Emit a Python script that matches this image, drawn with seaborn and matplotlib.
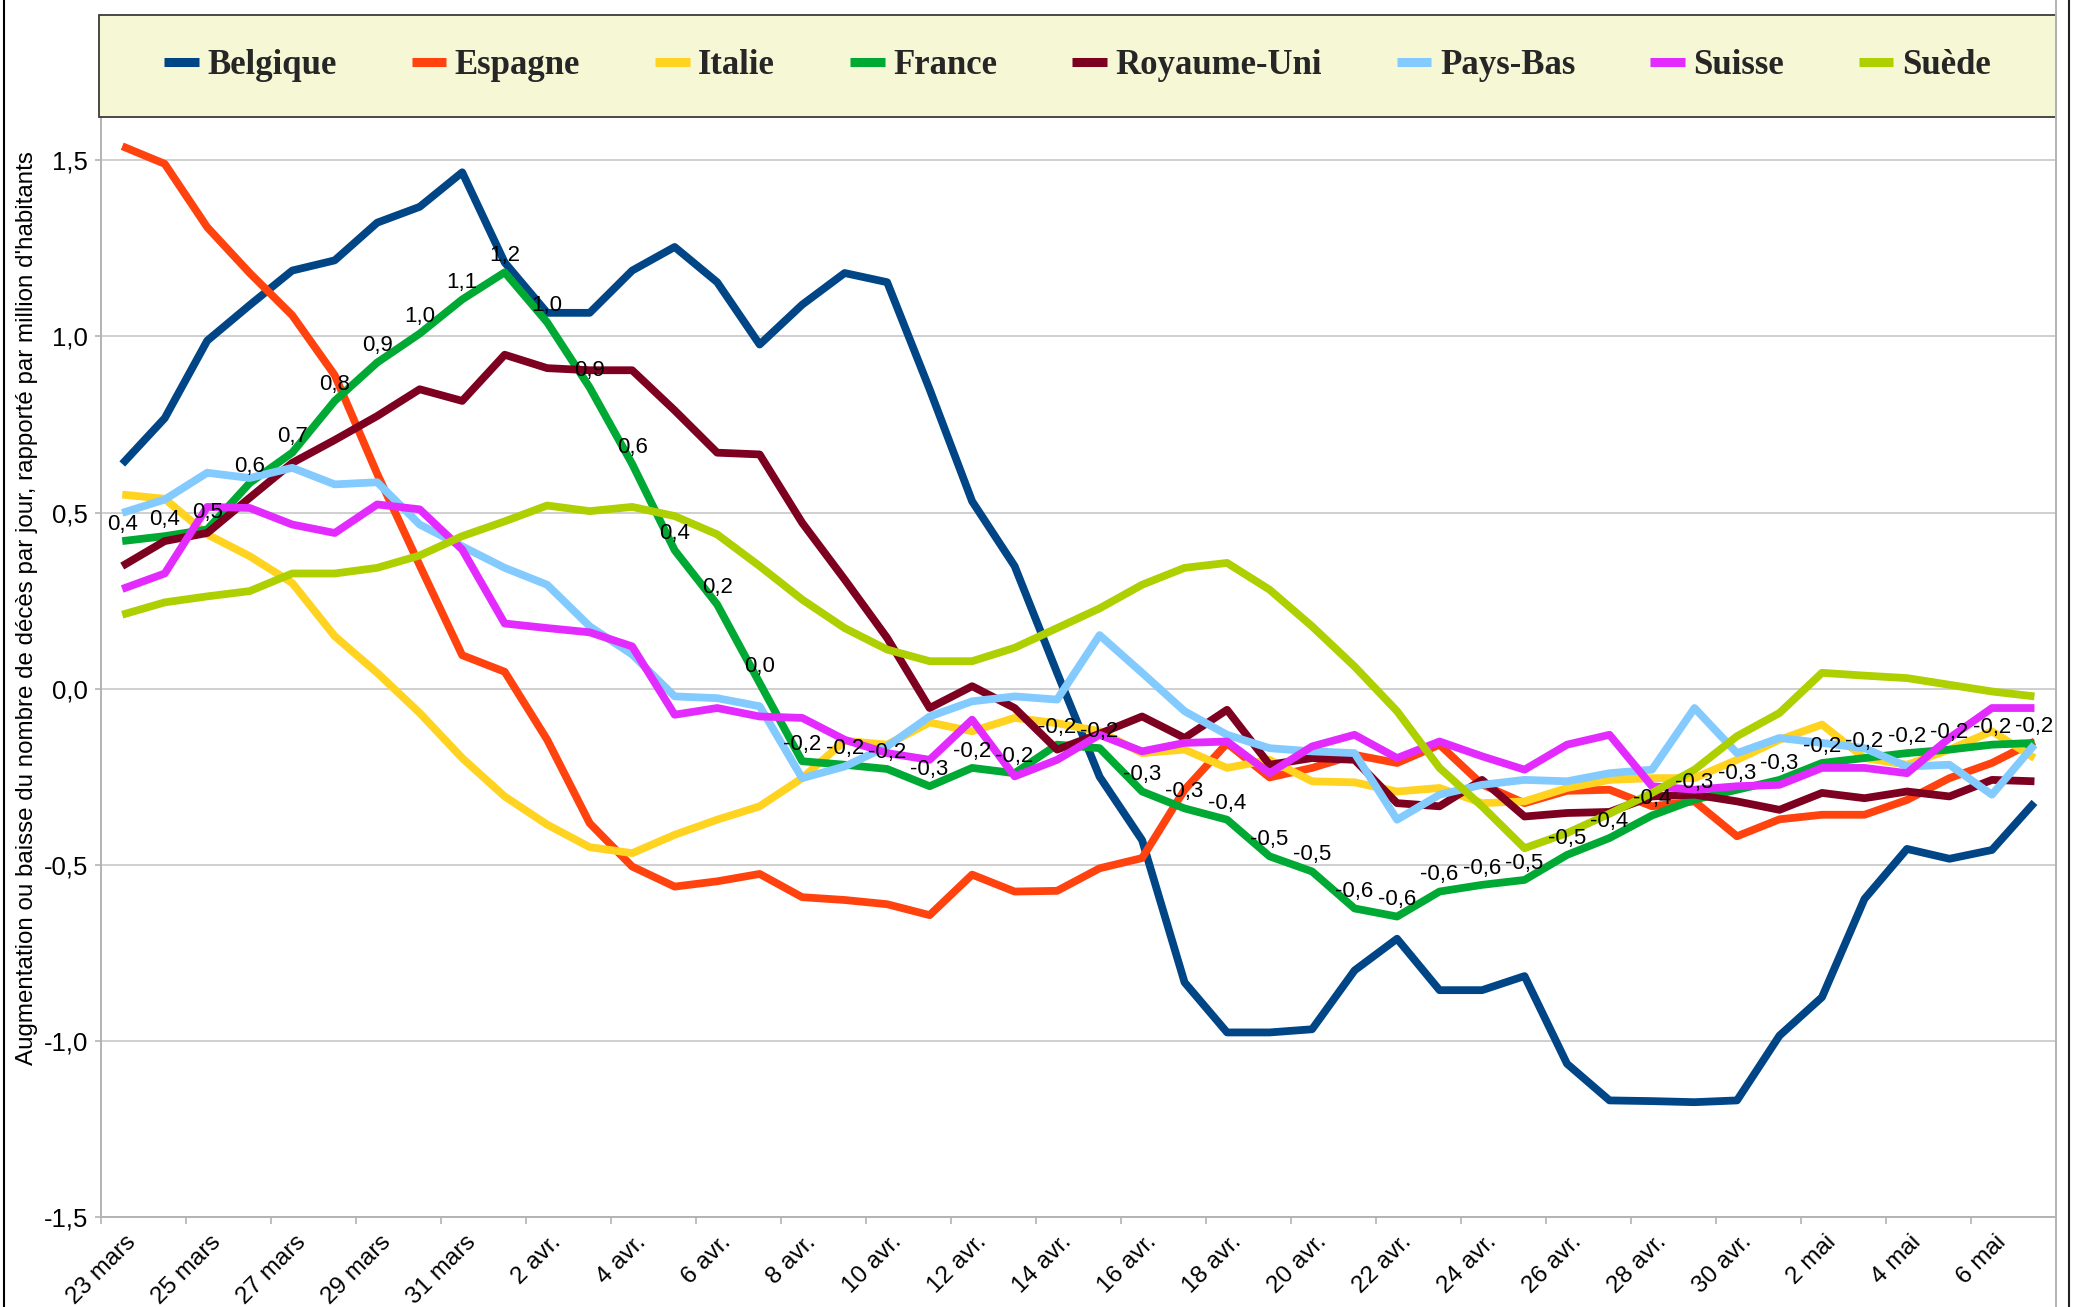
import numpy as np
import pandas as pd
import matplotlib
matplotlib.use("Agg")
import matplotlib.pyplot as plt
import matplotlib.transforms as mtrans
from matplotlib.lines import Line2D
from matplotlib.patches import Rectangle
from matplotlib.font_manager import FontProperties
import seaborn as sns

# ---------------- data ----------------
countries = ["Belgique", "Espagne", "Italie", "France", "Royaume-Uni",
             "Pays-Bas", "Suisse", "Suède"]
colors = ["#004586", "#FF420E", "#FFD320", "#00A933", "#7E0021",
          "#83CAFF", "#E42BFF", "#AECF00"]

xtick_labels = ["23 mars", "25 mars", "27 mars", "29 mars", "31 mars",
                "2 avr.", "4 avr.", "6 avr.", "8 avr.", "10 avr.", "12 avr.",
                "14 avr.", "16 avr.", "18 avr.", "20 avr.", "22 avr.",
                "24 avr.", "26 avr.", "28 avr.", "30 avr.", "2 mai",
                "4 mai", "6 mai"]
ytick_values = [-1.5, -1.0, -0.5, 0.0, 0.5, 1.0, 1.5]
ytick_labels = ["-1,5", "-1,0", "-0,5", "0,0", "0,5", "1,0", "1,5"]

belgique = [0.638, 0.768, 0.988, 1.089, 1.187, 1.216, 1.323, 1.368, 1.466, 1.21,
            1.067, 1.067, 1.187, 1.254, 1.154, 0.977, 1.09, 1.18, 1.154, 0.85,
            0.532, 0.348, 0.045, -0.25, -0.43, -0.834, -0.976, -0.976, -0.967, -0.80,
            -0.71, -0.856, -0.856, -0.816, -1.065, -1.169, -1.171, -1.174, -1.169, -0.985,
            -0.876, -0.597, -0.455, -0.483, -0.458, -0.323]
espagne = [1.54, 1.49, 1.31, 1.18, 1.06, 0.89, 0.61, 0.35, 0.095, 0.048,
           -0.145, -0.382, -0.505, -0.562, -0.547, -0.526, -0.592, -0.600, -0.612, -0.643,
           -0.528, -0.576, -0.574, -0.510, -0.481, -0.287, -0.155, -0.252, -0.225, -0.188,
           -0.211, -0.159, -0.272, -0.325, -0.290, -0.287, -0.334, -0.320, -0.419, -0.371,
           -0.358, -0.358, -0.316, -0.254, -0.211, -0.150]
italie = [0.551, 0.539, 0.438, 0.376, 0.30, 0.149, 0.045, -0.069, -0.197, -0.306,
          -0.386, -0.45, -0.467, -0.415, -0.372, -0.334, -0.254, -0.148, -0.159, -0.096,
          -0.121, -0.083, -0.098, -0.121, -0.183, -0.173, -0.225, -0.202, -0.263, -0.266,
          -0.292, -0.282, -0.325, -0.320, -0.282, -0.259, -0.254, -0.254, -0.202, -0.145,
          -0.102, -0.197, -0.216, -0.173, -0.121, -0.197]
france = [0.419, 0.433, 0.452, 0.584, 0.67, 0.817, 0.926, 1.008, 1.105, 1.182,
          1.040, 0.855, 0.638, 0.393, 0.239, 0.016, -0.206, -0.216, -0.228, -0.277,
          -0.225, -0.24, -0.159, -0.169, -0.292, -0.34, -0.372, -0.476, -0.519, -0.624,
          -0.647, -0.576, -0.557, -0.543, -0.472, -0.424, -0.36, -0.315, -0.287, -0.259,
          -0.211, -0.197, -0.183, -0.173, -0.159, -0.154]
royaume_uni = [0.348, 0.419, 0.442, 0.542, 0.641, 0.706, 0.774, 0.85, 0.817, 0.948,
               0.91, 0.904, 0.904, 0.790, 0.67, 0.665, 0.471, 0.31, 0.144, -0.055,
               0.007, -0.055, -0.173, -0.128, -0.079, -0.14, -0.06, -0.216, -0.197, -0.202,
               -0.325, -0.334, -0.259, -0.363, -0.353, -0.350, -0.306, -0.301, -0.320, -0.344,
               -0.296, -0.311, -0.292, -0.306, -0.259, -0.263]
pays_bas = [0.499, 0.537, 0.613, 0.598, 0.627, 0.58, 0.586, 0.466, 0.404, 0.343,
            0.295, 0.177, 0.097, -0.022, -0.027, -0.05, -0.254, -0.221, -0.164, -0.079,
            -0.036, -0.022, -0.031, 0.152, 0.045, -0.064, -0.131, -0.169, -0.178, -0.183,
            -0.372, -0.301, -0.273, -0.259, -0.263, -0.240, -0.230, -0.055, -0.183, -0.140,
            -0.154, -0.169, -0.221, -0.216, -0.301, -0.159]
suisse = [0.283, 0.327, 0.516, 0.513, 0.466, 0.442, 0.523, 0.509, 0.395, 0.185,
          0.172, 0.16, 0.12, -0.074, -0.055, -0.079, -0.083, -0.145, -0.183, -0.202,
          -0.088, -0.249, -0.202, -0.131, -0.178, -0.154, -0.150, -0.240, -0.164, -0.131,
          -0.197, -0.150, -0.192, -0.230, -0.159, -0.131, -0.277, -0.287, -0.277, -0.273,
          -0.225, -0.225, -0.240, -0.140, -0.055, -0.055]
suede = [0.21, 0.245, 0.262, 0.277, 0.327, 0.327, 0.343, 0.378, 0.433, 0.475,
         0.52, 0.504, 0.516, 0.49, 0.438, 0.348, 0.253, 0.172, 0.111, 0.078,
         0.078, 0.116, 0.172, 0.228, 0.295, 0.343, 0.357, 0.281, 0.177, 0.063,
         -0.064, -0.225, -0.334, -0.453, -0.410, -0.355, -0.296, -0.230, -0.135, -0.069,
         0.045, 0.037, 0.030, 0.011, -0.008, -0.022]

series = [belgique, espagne, italie, france, royaume_uni, pays_bas, suisse, suede]
ylabel = ("Augmentation ou baisse du nombre de décès par jour, "
          "rapporté par million d'habitants")

n_days = len(belgique)
frames = []
for name, vals in zip(countries, series):
    frames.append(pd.DataFrame({"jour": np.arange(n_days), "valeur": vals, "pays": name}))
df = pd.concat(frames, ignore_index=True)
palette = dict(zip(countries, colors))

# ---------------- style ----------------
sns.set_theme(style="white")
plt.rcParams["font.family"] = ["Liberation Sans", "DejaVu Sans"]

W, H = 2077, 1307
fig = plt.figure(figsize=(W / 100, H / 100), dpi=100)
fig.patch.set_facecolor("white")

ax_left, ax_right, ax_bottom, ax_top = 101, 2055.7, 1217, 117
ax = fig.add_axes([ax_left / W, 1 - ax_bottom / H,
                   (ax_right - ax_left) / W, (ax_bottom - ax_top) / H])

sns.lineplot(data=df, x="jour", y="valeur", hue="pays", hue_order=countries,
             palette=palette, linewidth=5.6, sort=False, legend=False, ax=ax,
             estimator=None)
for ln in ax.get_lines():
    ln.set_solid_joinstyle("round")
    ln.set_solid_capstyle("butt")

ax.set_xlim(-0.5, n_days - 0.5)
ax.set_ylim(-1.5, 1.623)

# axes styling
ax.set_xlabel("")
ax.set_ylabel("")
for s in ["top", "right"]:
    ax.spines[s].set_visible(False)
for s in ["left", "bottom"]:
    ax.spines[s].set_color("#B3B3B3")
    ax.spines[s].set_linewidth(1.4)
ax.yaxis.grid(True, color="#CFCFCF", linewidth=1.4)
ax.xaxis.grid(False)
ax.set_axisbelow(True)

ax.set_yticks(ytick_values)
ax.set_yticklabels(ytick_labels)
ax.tick_params(axis="y", which="major", left=True, length=4.5, width=1.2,
               color="#B3B3B3", pad=5, labelsize=18.5, labelcolor="black")

ax.set_xticks(np.arange(0, n_days, 2))
ax.set_xticklabels(xtick_labels)
ax.set_xticks(np.arange(-0.5, n_days - 1, 2), minor=True)
ax.tick_params(axis="x", which="major", bottom=True, length=0, pad=10,
               labelsize=17.5, labelcolor="black")
ax.tick_params(axis="x", which="minor", bottom=True, length=5, width=1.2,
               color="#B3B3B3")
shift = mtrans.ScaledTranslation(3 / 100, 0, fig.dpi_scale_trans)
for lab in ax.get_xticklabels():
    lab.set_rotation(45)
    lab.set_ha("right")
    lab.set_va("top")
    lab.set_rotation_mode("anchor")
    lab.set_transform(lab.get_transform() + shift)

# data labels on the France series
for i, v in enumerate(france):
    txt = f"{v:.1f}".replace(".", ",")
    ax.annotate(txt, (i, v), xytext=(0, 12), textcoords="offset points",
                ha="center", va="center", fontsize=16, color="black",
                zorder=10)

# y axis title
fig.text(27 / W, 1 - 608 / H, ylabel, rotation=90, ha="center", va="center",
         fontsize=17.4, color="black")

# legend box
fig.patches.append(Rectangle((99 / W, 1 - 116.6 / H), (2056 - 99) / W, 102 / H,
                             transform=fig.transFigure, facecolor="#F6F8D5",
                             edgecolor="#3A3A3A", linewidth=1.3, zorder=0))
handles = [Line2D([0], [0], color=c, lw=6.5, solid_capstyle="butt") for c in colors]
fig.legend(handles, countries, loc="center",
           bbox_to_anchor=((99 + 2056) / 2 / W, 1 - 65.6 / H), ncol=8,
           frameon=False,
           prop=FontProperties(family="Liberation Serif", weight="bold", size=25),
           handlelength=1.0, handletextpad=0.25, columnspacing=2.15,
           borderpad=0, borderaxespad=0)

# frame lines of the picture
fig.add_artist(Line2D([3.5 / W] * 2, [0, 1], transform=fig.transFigure,
                      color="black", lw=1.5))
fig.add_artist(Line2D([2055.7 / W] * 2, [0, 1], transform=fig.transFigure,
                      color="#B3B3B3", lw=1.4))
fig.add_artist(Line2D([2069 / W] * 2, [0, 1], transform=fig.transFigure,
                      color="#222222", lw=1.5))

fig.savefig("out.png", dpi=100)
